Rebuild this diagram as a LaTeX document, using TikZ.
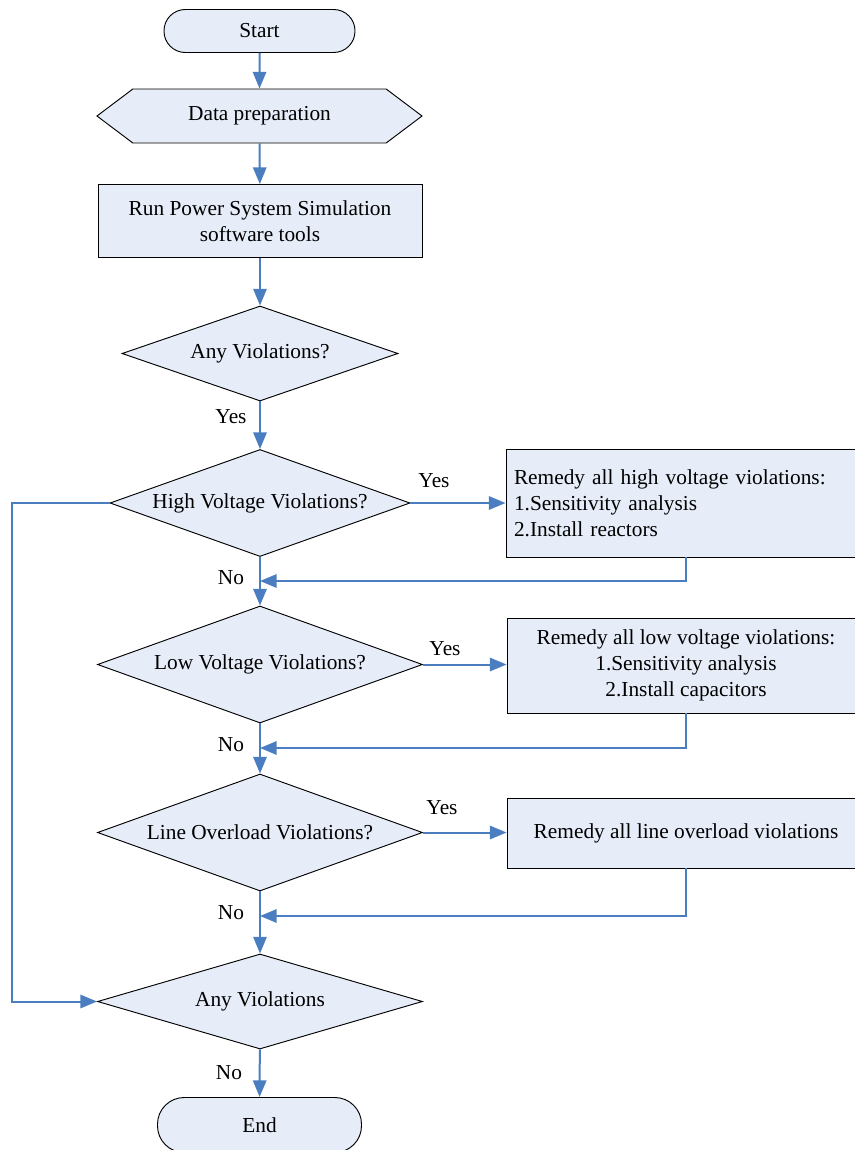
\documentclass[tikz,border=0pt]{standalone}
\usepackage{fontspec}
\setmainfont{Liberation Serif}
\usetikzlibrary{shapes.geometric,shapes.symbols,arrows.meta}
\definecolor{flowblue}{RGB}{74,126,192}
\definecolor{boxfill}{RGB}{230,237,248}
\tikzset{
  base/.style={draw=black, line width=0.7pt, fill=boxfill, inner sep=0pt,
    font=\fontsize{16}{19.5}\selectfont, align=center},
  terminal/.style={base, rectangle, rounded corners=16pt},
  process/.style={base, rectangle},
  prep/.style={base, signal, signal to=west and east, signal pointer angle=74},
  decision/.style={base, diamond, aspect=2.8},
  lbl/.style={font=\fontsize{16}{19.5}\selectfont, inner sep=0pt},
  arr/.style={draw=flowblue, line width=1.5pt,
    -{Triangle[length=12.5pt, width=10pt]}},
}
\begin{document}
\begin{tikzpicture}[x=0.75pt, y=-0.75pt]
\useasboundingbox (0,0) rectangle (854,1150);

% main column
\node[terminal, minimum width=143.25pt, minimum height=32.25pt] (start) at (259.5,31) {Start};
\node[prep, minimum width=243.75pt, minimum height=40.5pt] (data) at (259.5,116) {Data preparation};
\node[process, minimum width=243pt, minimum height=54.75pt] (run) at (260,221)
  {Run Power System Simulation\\software tools};
\node[decision, minimum width=207pt, minimum height=71.25pt] (d1) at (260,353.5) {Any Violations?};
\node[decision, minimum width=225pt, minimum height=80.25pt] (d2) at (260,503) {High Voltage Violations?};
\node[decision, minimum width=243.75pt, minimum height=87.75pt] (d3) at (260,664.5) {Low Voltage Violations?};
\node[decision, minimum width=243.75pt, minimum height=87.75pt] (d4) at (260,832.5) {Line Overload Violations?};
\node[decision, minimum width=243.75pt, minimum height=71.25pt] (d5) at (260,1001.5) {Any Violations};
\node[terminal, minimum width=153pt, minimum height=41.25pt, rounded corners=20pt] (end) at (259.5,1125) {End};

% remedy boxes
\node[process, minimum width=270pt, minimum height=81pt, align=left,
  text width=258pt, inner xsep=4.5pt] (hv) at (686,503)
  {Remedy all high voltage violations:\\1.Sensitivity analysis\\2.Install reactors};
\node[process, minimum width=268.5pt, minimum height=71.25pt] (lv) at (686,665.5)
  {Remedy all low voltage violations:\\1.Sensitivity analysis\\2.Install capacitors};
\node[process, minimum width=268.5pt, minimum height=52.5pt] (lo) at (686,833)
  {Remedy all line overload violations};

% merge points on the main column
\coordinate (m1) at (260,581);
\coordinate (m2) at (260,748);
\coordinate (m3) at (260,916);
\coordinate (bl) at (12,503);
\coordinate (br) at (12,1001.5);

% main flow
\draw[arr] (start) -- (data);
\draw[arr] (data) -- (run);
\draw[arr] (run) -- (d1);
\draw[arr] (d1) -- (d2);
\draw[arr] (d2) -- (d3);
\draw[arr] (d3) -- (d4);
\draw[arr] (d4) -- (d5);
\draw[arr] (d5) -- (end);

% yes branches
\draw[arr] (d2.east) -- (hv.west |- d2.east);
\draw[arr] (d3.east) -- (lv.west |- d3.east);
\draw[arr] (d4.east) -- (lo.west |- d4.east);

% returns
\draw[arr] (hv.south) |- (m1);
\draw[arr] (lv.south) |- (m2);
\draw[arr] (lo.south) |- (m3);

% bypass on the left
\draw[arr] (d2.west) -- (bl) -- (br) -- (d5.west);

% labels
\node[lbl] (y1) at (231,417) {Yes};
\node[lbl] (y2) at (434,481) {Yes};
\node[lbl] (y3) at (445,649) {Yes};
\node[lbl] (y4) at (442,808) {Yes};
\node[lbl] (n1) at (231,578) {No};
\node[lbl] (n2) at (231,745) {No};
\node[lbl] (n3) at (231,913) {No};
\node[lbl] (n4) at (229,1073) {No};
\end{tikzpicture}
\end{document}
